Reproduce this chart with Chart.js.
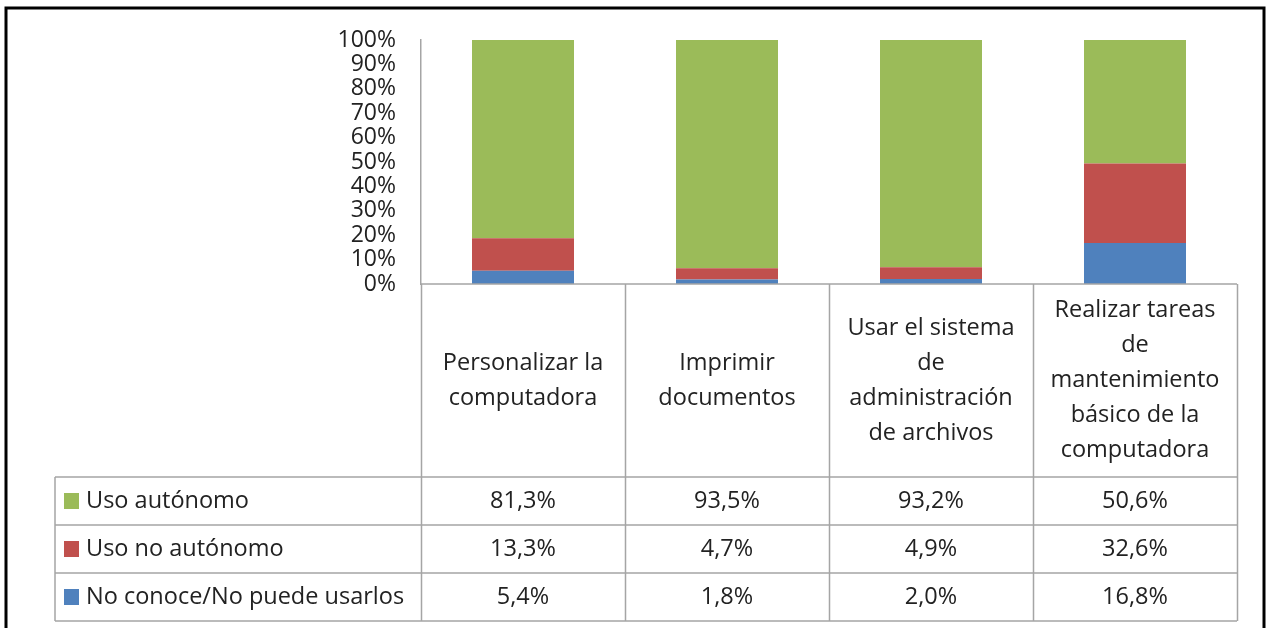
<!DOCTYPE html>
<html>
<head>
<meta charset="utf-8">
<script src="https://cdn.jsdelivr.net/npm/chart.js"></script>
<style>
  body { margin: 0; background: #fff; }
  canvas { display: block; }
</style>
</head>
<body>
<canvas id="chart" width="1267" height="628"></canvas>
<script>
// Categories (line breaks as in the original table header)
const categories = [
    ['Personalizar la', 'computadora'],
    ['Imprimir', 'documentos'],
    ['Usar el sistema', 'de', 'administración', 'de archivos'],
    ['Realizar tareas', 'de', 'mantenimiento', 'básico de la', 'computadora']
];

const seriesNames = ['No conoce/No puede usarlos', 'Uso no autónomo', 'Uso autónomo'];
const noConoce = [5.4, 1.8, 2.0, 16.8];
const usoNoAutonomo = [13.3, 4.7, 4.9, 32.6];
const usoAutonomo = [81.3, 93.5, 93.2, 50.6];
const colors = ['#4F81BD', '#C0504D', '#9BBB59'];

const FONT = '"Open Sans", Lato, sans-serif';
const fmt = v => v.toFixed(1).replace('.', ',') + '%';

// Data table drawn under the plot, using the x scale for the columns
const dataTable = {
    id: 'dataTable',
    afterDraw(chart) {
        const ctx = chart.ctx;
        const x = chart.scales.x;
        const area = chart.chartArea;
        const n = categories.length;
        const colW = (x.right - x.left) / n;
        const headerTop = area.bottom;
        const headerBottom = headerTop + 193;
        const rowH = 48;
        const tableLeft = 55;
        const rows = chart.data.datasets.slice().reverse();
        const tableBottom = headerBottom + rowH * rows.length;

        ctx.save();
        ctx.strokeStyle = '#A5A5A5';
        ctx.lineWidth = 1.5;
        ctx.beginPath();
        // header top and verticals
        ctx.moveTo(x.left, headerTop);
        ctx.lineTo(x.right, headerTop);
        for (let i = 0; i <= n; i++) {
            const cx = Math.round(x.getPixelForValue(i) - colW / 2) + 0.5;
            ctx.moveTo(cx, headerTop);
            ctx.lineTo(cx, tableBottom);
        }
        // row lines
        for (let r = 0; r <= rows.length; r++) {
            const y = headerBottom + r * rowH;
            ctx.moveTo(tableLeft, y);
            ctx.lineTo(x.right, y);
        }
        ctx.moveTo(tableLeft, headerBottom);
        ctx.lineTo(tableLeft, tableBottom);
        ctx.stroke();

        ctx.fillStyle = '#222';
        ctx.font = '23.5px ' + FONT;
        ctx.textAlign = 'center';
        ctx.textBaseline = 'middle';
        // header labels
        const lineH = 35;
        categories.forEach((lines, i) => {
            const cx = x.getPixelForValue(i);
            const midY = (headerTop + headerBottom) / 2;
            const startY = midY - (lines.length - 1) * lineH / 2;
            lines.forEach((t, k) => ctx.fillText(t, cx, startY + k * lineH));
        });
        // rows
        rows.forEach((ds, r) => {
            const cy = headerBottom + r * rowH + rowH / 2;
            ctx.fillStyle = ds.backgroundColor;
            ctx.fillRect(64, cy - 8, 15, 16);
            ctx.fillStyle = '#222';
            ctx.textAlign = 'left';
            ctx.fillText(ds.label, 86, cy);
            ctx.textAlign = 'center';
            ds.data.forEach((v, i) => {
                ctx.fillText(fmt(v), x.getPixelForValue(i), cy);
            });
        });

        // outer frame
        ctx.strokeStyle = '#000';
        ctx.lineWidth = 3;
        ctx.strokeRect(6, 8, 1258, 660);
        ctx.restore();
    }
};

new Chart(document.getElementById('chart'), {
    type: 'bar',
    data: {
        labels: categories,
        datasets: [
            { label: seriesNames[0], data: noConoce, backgroundColor: colors[0] },
            { label: seriesNames[1], data: usoNoAutonomo, backgroundColor: colors[1] },
            { label: seriesNames[2], data: usoAutonomo, backgroundColor: colors[2] }
        ]
    },
    options: {
        responsive: false,
        animation: false,
        categoryPercentage: 1,
        barPercentage: 0.5,
        layout: { padding: { left: 0, right: 30, top: 40, bottom: 344 } },
        plugins: {
            legend: { display: false },
            tooltip: { enabled: false }
        },
        scales: {
            x: { stacked: true, display: false },
            y: {
                stacked: true,
                min: 0,
                max: 100,
                afterFit(scale) { scale.width = 421; },
                grid: { display: false, drawTicks: false },
                border: { display: true, color: '#A5A5A5', width: 1.5 },
                ticks: {
                    stepSize: 10,
                    autoSkip: false,
                    padding: 25,
                    color: '#222',
                    font: { family: FONT, size: 23 },
                    callback: v => v + '%'
                }
            }
        }
    },
    plugins: [dataTable]
});
</script>
</body>
</html>
